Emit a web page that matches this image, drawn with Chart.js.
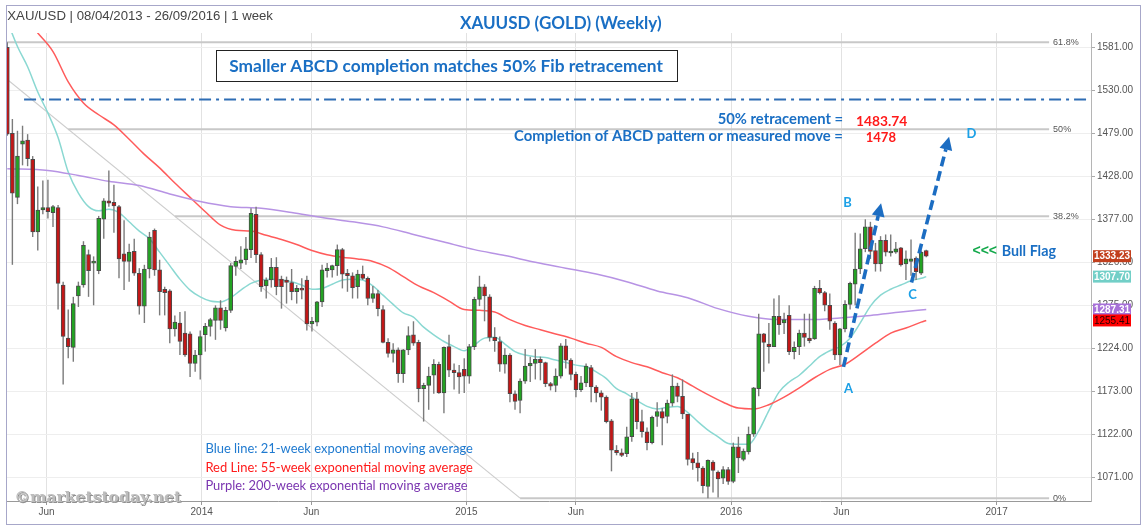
<!DOCTYPE html>
<html><head><meta charset="utf-8">
<script src="https://cdn.jsdelivr.net/npm/chart.js@4.4.1/dist/chart.umd.min.js"></script>
<style>
html,body{margin:0;padding:0;background:#fff;overflow:hidden;}
#wrap{position:relative;width:1147px;height:525px;}
#frame{position:absolute;left:6px;top:5px;width:1133px;height:518px;border:1px solid #a7a7c9;pointer-events:none;}
canvas{position:absolute;left:0;top:0;}
</style></head><body>
<div id="wrap"><canvas id="c" width="1147" height="525"></canvas><div id="frame"></div></div>
<script>
// ---------- DATA ----------
const startDate = '2013-04-08';
const tickDates  = ['2013-06-01','2014-01-01','2014-06-01','2015-01-01','2015-06-01','2016-01-01','2016-06-01','2017-01-01'];
const tickLabels = ['Jun','2014','Jun','2015','Jun','2016','Jun','2017'];
const yTickValues = [1071,1122,1173,1224,1275,1326,1377,1428,1479,1530,1581];

const opens = [1581,1479,1403,1466,1471,1448,1362,1388,1391,1385,
1391,1299,1236,1225,1286,1299,1335,1325,1316,1377,
1399,1397,1392,1336,1327,1339,1313,1274,1318,1364,
1317,1294,1292,1247,1254,1242,1241,1206,1216,1240,
1250,1257,1272,1248,1269,1321,1325,1329,1341,1383,
1335,1298,1305,1320,1306,1305,1302,1291,1295,1305,
1253,1255,1279,1316,1317,1322,1341,1313,1310,1297,
1312,1307,1283,1289,1270,1231,1218,1222,1194,1222,
1240,1231,1176,1180,1192,1205,1171,1226,1198,1195,
1199,1191,1226,1282,1297,1285,1237,1232,1205,1216,
1170,1162,1185,1203,1206,1211,1207,1182,1180,1191,
1227,1210,1193,1175,1183,1201,1178,1171,1166,1138,
1103,1100,1099,1119,1164,1137,1125,1112,1143,1149,
1143,1159,1179,1167,1146,1093,1088,1082,1060,1089,
1077,1070,1080,1066,1107,1092,1101,1122,1176,1241,
1229,1226,1262,1254,1263,1220,1226,1242,1236,1235,
1295,1290,1275,1254,1216,1247,1276,1300,1318,1342,
1368,1340,1324,1352,1337,1338,1343,1324,1327,1331,
1313,1340];
const highs = [1587,1496,1482,1488,1478,1452,1416,1423,1424,1394,
1394,1303,1270,1285,1303,1351,1341,1333,1381,1402,
1435,1418,1394,1376,1348,1354,1319,1323,1362,1366,
1329,1297,1294,1263,1267,1268,1244,1222,1245,1254,
1260,1275,1281,1273,1325,1333,1345,1356,1390,1392,
1338,1308,1331,1332,1310,1309,1318,1299,1307,1310,
1261,1280,1323,1325,1323,1347,1343,1318,1314,1317,
1322,1309,1298,1293,1275,1236,1230,1225,1223,1250,
1256,1234,1183,1202,1211,1208,1226,1240,1206,1204,
1212,1229,1285,1310,1300,1288,1249,1238,1224,1218,
1174,1188,1223,1214,1223,1214,1208,1184,1200,1230,
1235,1212,1196,1191,1206,1204,1180,1174,1168,1140,
1109,1105,1131,1171,1172,1151,1130,1144,1160,1153,
1163,1193,1183,1187,1146,1100,1101,1084,1092,1091,
1079,1084,1083,1112,1119,1105,1131,1178,1265,1242,
1254,1283,1287,1266,1275,1232,1246,1265,1265,1298,
1305,1292,1289,1256,1248,1281,1303,1361,1360,1377,
1374,1349,1357,1359,1359,1350,1344,1340,1353,1333,
1340,1341];
const lows = [1476,1323,1395,1441,1440,1356,1340,1383,1378,1368,
1270,1181,1212,1208,1273,1296,1285,1275,1312,1354,
1392,1361,1307,1293,1303,1310,1264,1254,1307,1310,
1263,1263,1230,1238,1216,1214,1190,1196,1187,1220,
1238,1234,1246,1244,1266,1310,1318,1323,1331,1325,
1291,1283,1296,1287,1271,1277,1281,1277,1282,1245,
1244,1250,1273,1308,1308,1310,1295,1291,1283,1283,
1305,1275,1278,1262,1230,1213,1207,1183,1183,1216,
1227,1160,1137,1151,1170,1170,1147,1190,1175,1170,
1171,1182,1222,1274,1256,1232,1220,1196,1194,1160,
1151,1147,1182,1184,1187,1186,1178,1174,1172,1188,
1200,1186,1166,1172,1178,1160,1160,1150,1135,1078,
1097,1095,1095,1113,1128,1118,1103,1110,1131,1109,
1135,1155,1160,1140,1085,1080,1066,1052,1046,1053,
1047,1063,1062,1064,1076,1090,1098,1119,1167,1196,
1206,1226,1240,1241,1216,1211,1216,1226,1230,1234,
1288,1268,1246,1210,1204,1243,1270,1275,1312,1338,
1330,1315,1315,1333,1333,1336,1321,1305,1310,1305,
1311,1332];
const closes = [1478,1408,1452,1470,1449,1362,1388,1391,1386,1392,
1301,1238,1226,1277,1298,1346,1316,1327,1378,1399,
1396,1393,1330,1327,1338,1313,1274,1318,1356,1317,
1291,1290,1247,1255,1232,1216,1206,1216,1238,1250,
1258,1272,1257,1269,1322,1327,1329,1342,1384,1335,
1297,1305,1320,1297,1297,1302,1291,1295,1293,1253,
1256,1279,1317,1319,1322,1341,1312,1310,1296,1312,
1307,1283,1289,1271,1231,1218,1222,1194,1222,1239,
1230,1176,1180,1191,1205,1171,1225,1198,1195,1190,
1191,1226,1282,1297,1286,1237,1233,1205,1216,1170,
1161,1185,1203,1206,1211,1207,1182,1179,1191,1227,
1210,1193,1175,1183,1203,1178,1171,1166,1137,1103,
1100,1097,1119,1164,1137,1125,1112,1142,1149,1141,
1159,1179,1167,1146,1092,1088,1082,1061,1091,1079,
1069,1080,1066,1107,1094,1102,1122,1177,1241,1231,
1226,1262,1252,1258,1220,1225,1242,1237,1233,1295,
1290,1275,1256,1216,1247,1276,1301,1318,1342,1368,
1339,1324,1352,1338,1339,1342,1323,1330,1330,1315,
1338,1333.23];

const ema21Weeks = [0,2,4,6,8,10,12,14,16,18,20,22,24,26,28,30,32,34,36,38,40,42,44,46,48,50,52,54,56,58,60,62,64,66,68,70,72,74,76,78,80,82,84,86,88,90,92,94,96,98,100,102,104,106,108,110,112,114,116,118,120,122,124,126,128,130,132,134,136,138,140,142,144,146,148,150,152,154,156,158,160,162,164,166,168,170,172,174,176,178,180,181];
const ema21 = [1612,1582,1558,1528,1503,1474,1433,1408,1392,1387,1389,1385,1374,1363,1354,1338,1322,1306,1293,1285,1280,1279,1284,1293,1301,1305,1306,1305,1303,1299,1294,1295,1300,1305,1306,1305,1298,1287,1276,1266,1261,1249,1240,1232,1226,1221,1228,1236,1237,1229,1220,1216,1214,1213,1210,1207,1204,1202,1196,1188,1176,1170,1162,1155,1152,1154,1155,1148,1137,1127,1119,1111,1110,1110,1126,1150,1172,1184,1192,1203,1214,1221,1226,1236,1254,1274,1287,1294,1299,1304,1307,1309];
const ema55Weeks = [0,3,6,9,12,15,18,21,24,27,30,33,36,39,42,45,48,51,54,57,60,63,66,69,72,75,78,81,84,87,90,93,96,99,102,105,108,111,114,117,120,123,126,129,132,135,138,141,144,147,150,153,156,159,162,165,168,171,174,177,180,181];
const ema55 = [1640,1619,1598,1576,1540,1515,1501,1489,1472,1454,1438,1420,1403,1386,1370,1364,1363,1358,1353,1347,1340,1335,1332,1330,1327,1320,1309,1298,1290,1280,1270,1269,1267,1258,1251,1246,1241,1236,1230,1225,1214,1207,1202,1195,1189,1179,1169,1160,1153,1152,1157,1166,1177,1189,1199,1205,1217,1230,1242,1248,1255,1257];
const ema200Weeks = [0,8,14,20,26,32,38,44,50,56,62,68,74,80,86,92,98,104,110,116,122,128,134,140,146,152,158,164,170,176,181];
const ema200 = [1437,1435,1429,1422,1417,1407,1398,1392,1390,1385,1379,1374,1368,1359,1350,1341,1334,1326,1319,1312,1303,1292,1284,1271,1262,1258,1258,1260,1263,1267,1270];

const lastValueLabels = ['1333.23','1307.70','1287.31','1255.41'];

const fibHigh = {week:-77, price:1921.28};
const fibLow  = {week:101, price:1046.2};
const fibRatios = [0, 0.382, 0.5, 0.618];
const fibNames  = ['0%','38.2%','50%','61.8%'];
const fibEndWeek = 205.2;

const dashDotLevel = 1519;
const dashDotWeeks = [3.3, 212.7];

const arrowAB = [[164.7,1202],[172.1,1396]];
const arrowCD = [[178.1,1302],[185.5,1475]];
const pointNames  = ['A','B','C','D'];
const pointWeeks  = [165.7,165.5,178.3,189.9];
const pointPrices = [1174.5,1397.5,1287.8,1479.3];

// ---------- DERIVED ----------
const DAY = 86400000;
const t0 = Date.parse(startDate + 'T00:00:00Z');
const tickWeeks = tickDates.map(d => (Date.parse(d + 'T00:00:00Z') - t0) / (7 * DAY));
const weeks = opens.map((_, i) => i);
const upColor = '#23a323', downColor = '#c31717';
const bodyColors = weeks.map(i => closes[i] >= opens[i] ? upColor : downColor);

const fibLevelPrice = r => fibLow.price + r * (fibHigh.price - fibLow.price);
const fibStartWeek = r => fibLow.week + r * (fibHigh.week - fibLow.week);

const lineDs = (pts, color, width, order, extra) => Object.assign({
  type:'line', data: pts, borderColor: color, borderWidth: width, pointRadius: 0,
  fill:false, order: order, tension: 0
}, extra || {});

const datasets = [];
fibRatios.forEach(r => {
  const lvl = fibLevelPrice(r);
  datasets.push(lineDs([{x: fibStartWeek(r), y: lvl}, {x: fibEndWeek, y: lvl}], '#c8c8c8', 2, 30));
});
datasets.push(lineDs([{x: fibHigh.week, y: fibHigh.price}, {x: fibLow.week, y: fibLow.price}], '#cdcdcd', 1.2, 31));
datasets.push(lineDs([{x: dashDotWeeks[0], y: dashDotLevel}, {x: dashDotWeeks[1], y: dashDotLevel}], '#2e6db4', 2, 29, {borderDash:[12,5,3,5]}));

const emaDs = (wk, vals, color) => lineDs(wk.map((w, k) => ({x: w, y: vals[k]})), color, 1.5, 8, {cubicInterpolationMode:'monotone'});
datasets.push(emaDs(ema200Weeks, ema200, '#b793e4'));
datasets.push(emaDs(ema55Weeks, ema55, '#ff5b5b'));
datasets.push(emaDs(ema21Weeks, ema21, '#8ad8d2'));

datasets.push({
  type:'bar', grouped:false, order:6,
  data: weeks.map(i => ({x: i, y: [lows[i], highs[i]]})),
  backgroundColor:'#7b7b7b', borderWidth:0, barThickness:1.4, inflateAmount:0
});
datasets.push({
  type:'bar', grouped:false, order:5,
  data: weeks.map(i => ({x: i, y: [opens[i], closes[i]]})),
  backgroundColor: bodyColors, borderColor:'#4a4a4a', borderWidth:1, borderSkipped:false,
  barThickness:4, minBarLength:2
});

// ---------- TEXT HELPERS ----------
function fitSize(ctx, text, width, weight, family){
  ctx.font = weight + ' 100px ' + family;
  return 100 * width / ctx.measureText(text).width;
}
function drawFit(ctx, text, left, cy, width, weight, family, color){
  const s = fitSize(ctx, text, width, weight, family);
  ctx.font = weight + ' ' + s + 'px ' + family;
  const capH = ctx.measureText('H').actualBoundingBoxAscent;
  ctx.fillStyle = color; ctx.textAlign = 'left'; ctx.textBaseline = 'alphabetic';
  ctx.fillText(text, left, cy + capH / 2);
}
function drawAt(ctx, text, left, cy, size, weight, family, color, align){
  ctx.font = weight + ' ' + size + 'px ' + family;
  const capH = ctx.measureText('H').actualBoundingBoxAscent;
  ctx.fillStyle = color; ctx.textAlign = align || 'left'; ctx.textBaseline = 'alphabetic';
  ctx.fillText(text, left, cy + capH / 2);
}
function drawArrow(ctx, x1, y1, x2, y2){
  const a = Math.atan2(y2 - y1, x2 - x1);
  const hl = 13, hw = 6.5;
  const bx = x2 - hl * Math.cos(a), by = y2 - hl * Math.sin(a);
  ctx.save();
  ctx.strokeStyle = '#1c6dc2'; ctx.fillStyle = '#1c6dc2';
  ctx.lineWidth = 3.6; ctx.setLineDash([10,5]);
  ctx.beginPath(); ctx.moveTo(x1, y1); ctx.lineTo(bx, by); ctx.stroke();
  ctx.setLineDash([]);
  ctx.beginPath(); ctx.moveTo(x2, y2);
  ctx.lineTo(bx + hw * Math.sin(a), by - hw * Math.cos(a));
  ctx.lineTo(bx - hw * Math.sin(a), by + hw * Math.cos(a));
  ctx.closePath(); ctx.fill();
  ctx.restore();
}

const annot = {
  id:'annot',
  afterDraw(chart){
    const ctx = chart.ctx, xs = chart.scales.x, ys = chart.scales.y;
    const X = v => xs.getPixelForValue(v), Y = v => ys.getPixelForValue(v);
    ctx.save();
    // fib labels
    fibRatios.forEach((r, k) => {
      ctx.font = '9px "Liberation Sans", Arial'; ctx.fillStyle = '#555';
      ctx.textAlign = 'left'; ctx.textBaseline = 'middle';
      ctx.fillText(fibNames[k], X(fibEndWeek) + 4, Y(fibLevelPrice(r)));
    });
    // arrows
    [arrowAB, arrowCD].forEach(a => drawArrow(ctx, X(a[0][0]), Y(a[0][1]), X(a[1][0]), Y(a[1][1])));
    // ABCD letters
    pointNames.forEach((n, k) => drawAt(ctx, n, X(pointWeeks[k]), Y(pointPrices[k]), 13, '700', 'Lato', '#1ca0e6', 'center'));
    // header & titles
    drawFit(ctx, 'XAU/USD | 08/04/2013 - 26/09/2016 | 1 week', 7.3, 15.5, 266, '400', '"Liberation Sans", Arial', '#444');
    drawFit(ctx, 'XAUUSD (GOLD) (Weekly)', 460, 22, 201.7, '700', 'Lato', '#1a6fc4');
    ctx.strokeStyle = '#222'; ctx.lineWidth = 1;
    ctx.strokeRect(216.5, 50.5, 461, 31);
    drawFit(ctx, 'Smaller ABCD completion matches 50% Fib retracement', 229.3, 65.5, 434, '700', 'Lato', '#1a6fc4');
    drawFit(ctx, '50% retracement =', 717.7, 118, 125.6, '700', 'Lato', '#1a6fc4');
    drawFit(ctx, '1483.74', 856, 120.5, 51.3, '700', 'Lato', '#ff1a1a');
    drawFit(ctx, 'Completion of ABCD pattern or measured move =', 514, 135.3, 329.3, '700', 'Lato', '#1a6fc4');
    drawFit(ctx, '1478', 865.7, 137, 30.3, '700', 'Lato', '#ff1a1a');
    drawAt(ctx, '<<<', 972.5, 250, 14, '700', '"Liberation Sans", Arial', '#12a84a');
    drawFit(ctx, 'Bull Flag', 1001.7, 250, 54.3, '700', 'Lato', '#1a6fc4');
    // legend notes
    drawFit(ctx, 'Blue line: 21-week exponential moving average', 205.4, 448.4, 267.8, '400', 'Lato', '#1f7ad0');
    drawFit(ctx, 'Red Line: 55-week exponential moving average', 205.4, 466.9, 267.8, '400', 'Lato', '#ff1a1a');
    drawFit(ctx, 'Purple: 200-week exponential moving average', 205.4, 485.3, 262.6, '400', 'Lato', '#7a35b0');
    // watermark
    drawFit(ctx, '\u00a9marketstoday.net', 15.3, 497, 167, '700', '"DejaVu Serif"', '#8f8f8f');
    drawFit(ctx, '\u00a9marketstoday.net', 14.3, 496, 167, '700', '"DejaVu Serif"', '#bdbdbd');
    // last value boxes
    const lastVals = [closes[closes.length-1], ema21[ema21.length-1], ema200[ema200.length-1], ema55[ema55.length-1]];
    const boxBg = ['#c23f1d','#72cfc7','#a771d8','#ff0000'];
    const boxFg = ['#fff','#fff','#fff','#2a0000'];
    lastVals.forEach((v, k) => {
      const cy = Y(v);
      ctx.fillStyle = boxBg[k];
      ctx.fillRect(1093, cy - 6, 38, 12);
      ctx.font = (k === 3 ? '400' : '700') + ' 10px "Liberation Sans", Arial';
      ctx.fillStyle = boxFg[k]; ctx.textAlign = 'center'; ctx.textBaseline = 'middle';
      ctx.fillText(lastValueLabels[k], 1112, cy + 0.5);
    });
    ctx.restore();
  }
};

new Chart(document.getElementById('c'), {
  type:'bar',
  data:{ datasets },
  options:{
    responsive:false, animation:false, events:[],
    layout:{ padding:{ left:7, top:33, right:0, bottom:0 } },
    plugins:{ legend:{display:false}, tooltip:{enabled:false} },
    scales:{
      x:{
        type:'linear', min:-0.06, max:213.45, offset:false,
        afterBuildTicks: s => { s.ticks = tickWeeks.map(v => ({value:v})); },
        afterFit: s => { s.height = 24; },
        ticks:{ autoSkip:false, maxRotation:0, padding:1, color:'#555',
          font:{ family:'"Liberation Sans", Arial', size:10 },
          callback:(v, i) => tickLabels[i] },
        grid:{ color:'#e2e2e2', offset:false, tickLength:4, tickColor:'#999' },
        border:{ color:'#999', width:1 }
      },
      y:{
        type:'linear', position:'right', min:1042.8, max:1598,
        afterBuildTicks: s => { s.ticks = yTickValues.map(v => ({value:v})); },
        afterFit: s => { s.width = 56; },
        ticks:{ padding:2, color:'#555', font:{ family:'"Liberation Sans", Arial', size:10 },
          callback: v => Number(v).toFixed(2) },
        grid:{ color:'#eeeeee', tickLength:4, tickColor:'#aaa' },
        border:{ color:'#b5b5b5', width:1 }
      }
    }
  },
  plugins:[annot]
});
</script>
</body></html>
